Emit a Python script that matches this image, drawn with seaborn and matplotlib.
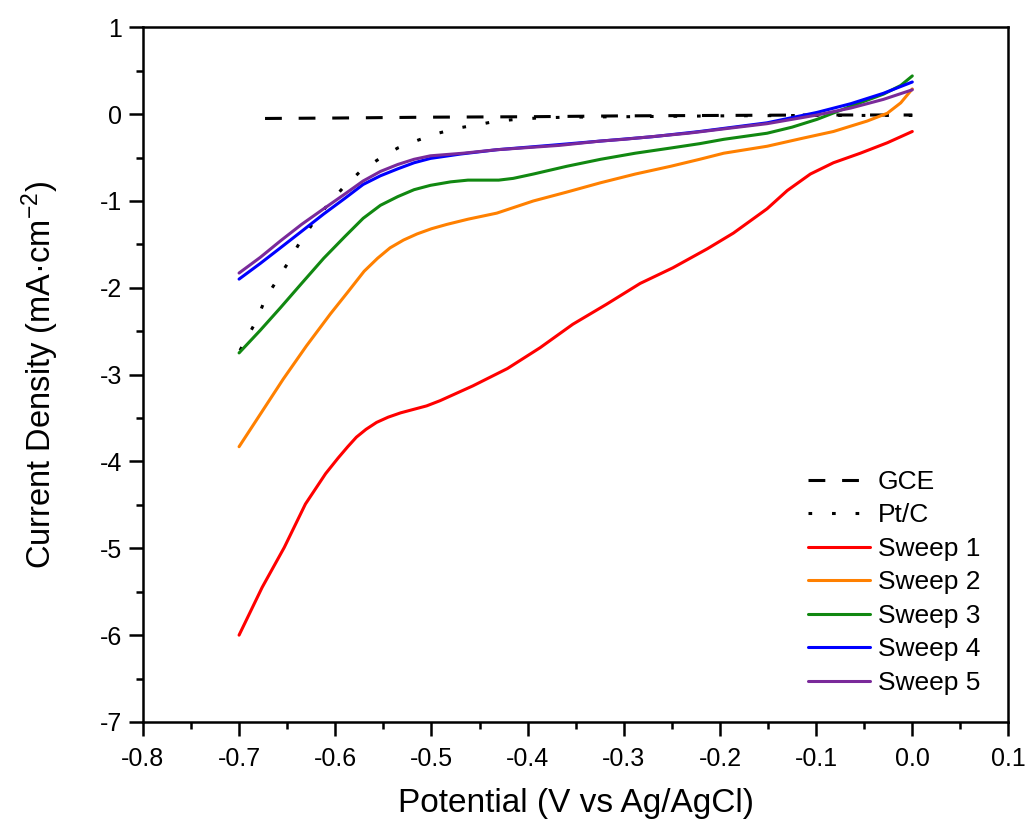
import numpy as np
import pandas as pd
import matplotlib
matplotlib.use("Agg")
import matplotlib.pyplot as plt
import seaborn as sns

# potential (V vs Ag/AgCl) and current density (mA/cm2)
gce_x = [-0.673, -0.6, -0.5, -0.4, -0.3, -0.2, -0.1, 0.0]
gce_y = [-0.05, -0.045, -0.035, -0.03, -0.02, -0.015, -0.01, -0.01]

ptc_x = [-0.699, -0.681, -0.673, -0.661, -0.649, -0.637, -0.624, -0.609, -0.592, -0.574,
         -0.555, -0.535, -0.514, -0.493, -0.472, -0.451, -0.432, -0.411, -0.39, -0.36,
         -0.3, -0.2, -0.1, 0.0]
ptc_y = [-2.72, -2.36, -2.13, -1.92, -1.71, -1.48, -1.27, -1.06, -0.85, -0.66,
         -0.52, -0.39, -0.30, -0.22, -0.16, -0.12, -0.08, -0.06, -0.045, -0.035,
         -0.03, -0.02, -0.015, -0.015]

s1_x = [-0.700, -0.676, -0.653, -0.631, -0.610, -0.597, -0.587, -0.578, -0.568, -0.557,
        -0.545, -0.532, -0.505, -0.491, -0.457, -0.421, -0.387, -0.353, -0.318, -0.283,
        -0.249, -0.213, -0.186, -0.151, -0.130, -0.106, -0.082, -0.054, -0.026, 0.000]
s1_y = [-6.00, -5.45, -4.99, -4.49, -4.14, -3.96, -3.83, -3.72, -3.63, -3.55,
        -3.49, -3.44, -3.36, -3.30, -3.13, -2.93, -2.69, -2.42, -2.19, -1.95,
        -1.77, -1.55, -1.37, -1.09, -0.88, -0.69, -0.56, -0.45, -0.33, -0.20]

s2_x = [-0.700, -0.677, -0.654, -0.630, -0.605, -0.587, -0.570, -0.556, -0.543, -0.529,
        -0.515, -0.500, -0.484, -0.462, -0.432, -0.394, -0.360, -0.324, -0.288, -0.251,
        -0.221, -0.196, -0.151, -0.115, -0.082, -0.047, -0.026, -0.012, 0.000]
s2_y = [-3.83, -3.44, -3.05, -2.67, -2.30, -2.05, -1.81, -1.66, -1.54, -1.45,
        -1.38, -1.32, -1.27, -1.21, -1.14, -1.00, -0.90, -0.79, -0.69, -0.60,
        -0.52, -0.45, -0.37, -0.28, -0.20, -0.08, 0.01, 0.13, 0.29]

s3_x = [-0.700, -0.678, -0.657, -0.635, -0.612, -0.590, -0.571, -0.553, -0.535, -0.518,
        -0.501, -0.480, -0.462, -0.430, -0.415, -0.394, -0.359, -0.324, -0.288, -0.251,
        -0.221, -0.196, -0.151, -0.125, -0.099, -0.064, -0.030, -0.012, 0.000]
s3_y = [-2.75, -2.49, -2.23, -1.95, -1.66, -1.41, -1.20, -1.05, -0.95, -0.87,
        -0.82, -0.78, -0.76, -0.76, -0.74, -0.69, -0.60, -0.52, -0.45, -0.39,
        -0.34, -0.29, -0.22, -0.15, -0.06, 0.09, 0.23, 0.33, 0.44]

s4_x = [-0.700, -0.678, -0.657, -0.635, -0.612, -0.590, -0.571, -0.553, -0.535, -0.518,
        -0.501, -0.470, -0.432, -0.377, -0.324, -0.270, -0.221, -0.151, -0.099, -0.064,
        -0.030, 0.000]
s4_y = [-1.90, -1.72, -1.54, -1.35, -1.15, -0.97, -0.81, -0.71, -0.63, -0.56,
        -0.51, -0.46, -0.41, -0.36, -0.31, -0.26, -0.20, -0.10, 0.02, 0.12,
        0.24, 0.37]

s5_x = [-0.700, -0.678, -0.657, -0.635, -0.612, -0.590, -0.571, -0.553, -0.535, -0.518,
        -0.501, -0.467, -0.432, -0.367, -0.324, -0.300, -0.233, -0.196, -0.151, -0.099,
        -0.064, -0.030, 0.000]
s5_y = [-1.83, -1.65, -1.46, -1.27, -1.09, -0.92, -0.77, -0.66, -0.58, -0.52,
        -0.48, -0.45, -0.41, -0.36, -0.31, -0.29, -0.22, -0.17, -0.11, -0.01,
        0.07, 0.17, 0.28]

sweep_names = ["Sweep 1", "Sweep 2", "Sweep 3", "Sweep 4", "Sweep 5"]
sweep_colors = ["#ff0000", "#ff8000", "#118811", "#0000ff", "#7a2a9a"]

x_ticks = [-0.8, -0.7, -0.6, -0.5, -0.4, -0.3, -0.2, -0.1, 0.0, 0.1]
x_ticklabels = ["-0.8", "-0.7", "-0.6", "-0.5", "-0.4", "-0.3", "-0.2", "-0.1", "0.0", "0.1"]
y_ticks = [-7, -6, -5, -4, -3, -2, -1, 0, 1]

sns.set_style("ticks")
plt.rcParams["font.family"] = ["Liberation Sans", "DejaVu Sans"]
plt.rcParams["mathtext.fontset"] = "custom"
plt.rcParams["mathtext.rm"] = "Liberation Sans"
plt.rcParams["mathtext.default"] = "regular"
plt.rcParams["axes.unicode_minus"] = False
for key in ["text.color", "axes.labelcolor", "xtick.color", "ytick.color"]:
    plt.rcParams[key] = "black"

fig = plt.figure(figsize=(10.28, 8.27), dpi=100)
ax = fig.add_axes([0.139, 0.127, 0.842, 0.840])

lw = 2.2
sns.lineplot(x=gce_x, y=gce_y, ax=ax, color="black", lw=lw, sort=False, label="GCE")
ax.lines[-1].set_dashes([5.5, 5.5])
sns.lineplot(x=ptc_x, y=ptc_y, ax=ax, color="black", lw=lw, sort=False, label="Pt/C")
ax.lines[-1].set_dashes([1.2, 6.5])

sweeps = [(s1_x, s1_y), (s2_x, s2_y), (s3_x, s3_y), (s4_x, s4_y), (s5_x, s5_y)]
for (sx, sy), name, col in zip(sweeps, sweep_names, sweep_colors):
    sns.lineplot(x=sx, y=sy, ax=ax, color=col, lw=lw, sort=False, label=name)

ax.set_xlim(-0.8, 0.1)
ax.set_ylim(-7, 1)
ax.set_xticks(x_ticks)
ax.set_xticklabels(x_ticklabels)
ax.set_yticks(y_ticks)
ax.set_xticks(np.arange(-0.75, 0.1, 0.1), minor=True)
ax.set_yticks(np.arange(-6.5, 1, 1), minor=True)
ax.tick_params(axis="both", which="major", direction="out", length=10, width=1.8,
               labelsize=18, top=False, right=False)
ax.tick_params(axis="x", which="major", pad=8)
ax.tick_params(axis="y", which="major", pad=5)
ax.tick_params(axis="both", which="minor", direction="out", length=5, width=1.8,
               top=False, right=False)
for sp in ax.spines.values():
    sp.set_linewidth(1.8)
    sp.set_color("black")

ax.set_xlabel("Potential (V vs Ag/AgCl)", fontsize=24, labelpad=12)
ax.set_ylabel("Current Density (mA·cm$^{-2}$)", fontsize=23.5, labelpad=28)

leg = ax.legend(loc="lower right", bbox_to_anchor=(0.995, 0.005), frameon=False,
                handlelength=2.35, handletextpad=0.3, labelspacing=0.36,
                prop={"family": ["Liberation Sans", "DejaVu Sans"], "size": 19})
for h in leg.get_lines():
    h.set_linewidth(lw)

fig.savefig("out.png", dpi=100)
